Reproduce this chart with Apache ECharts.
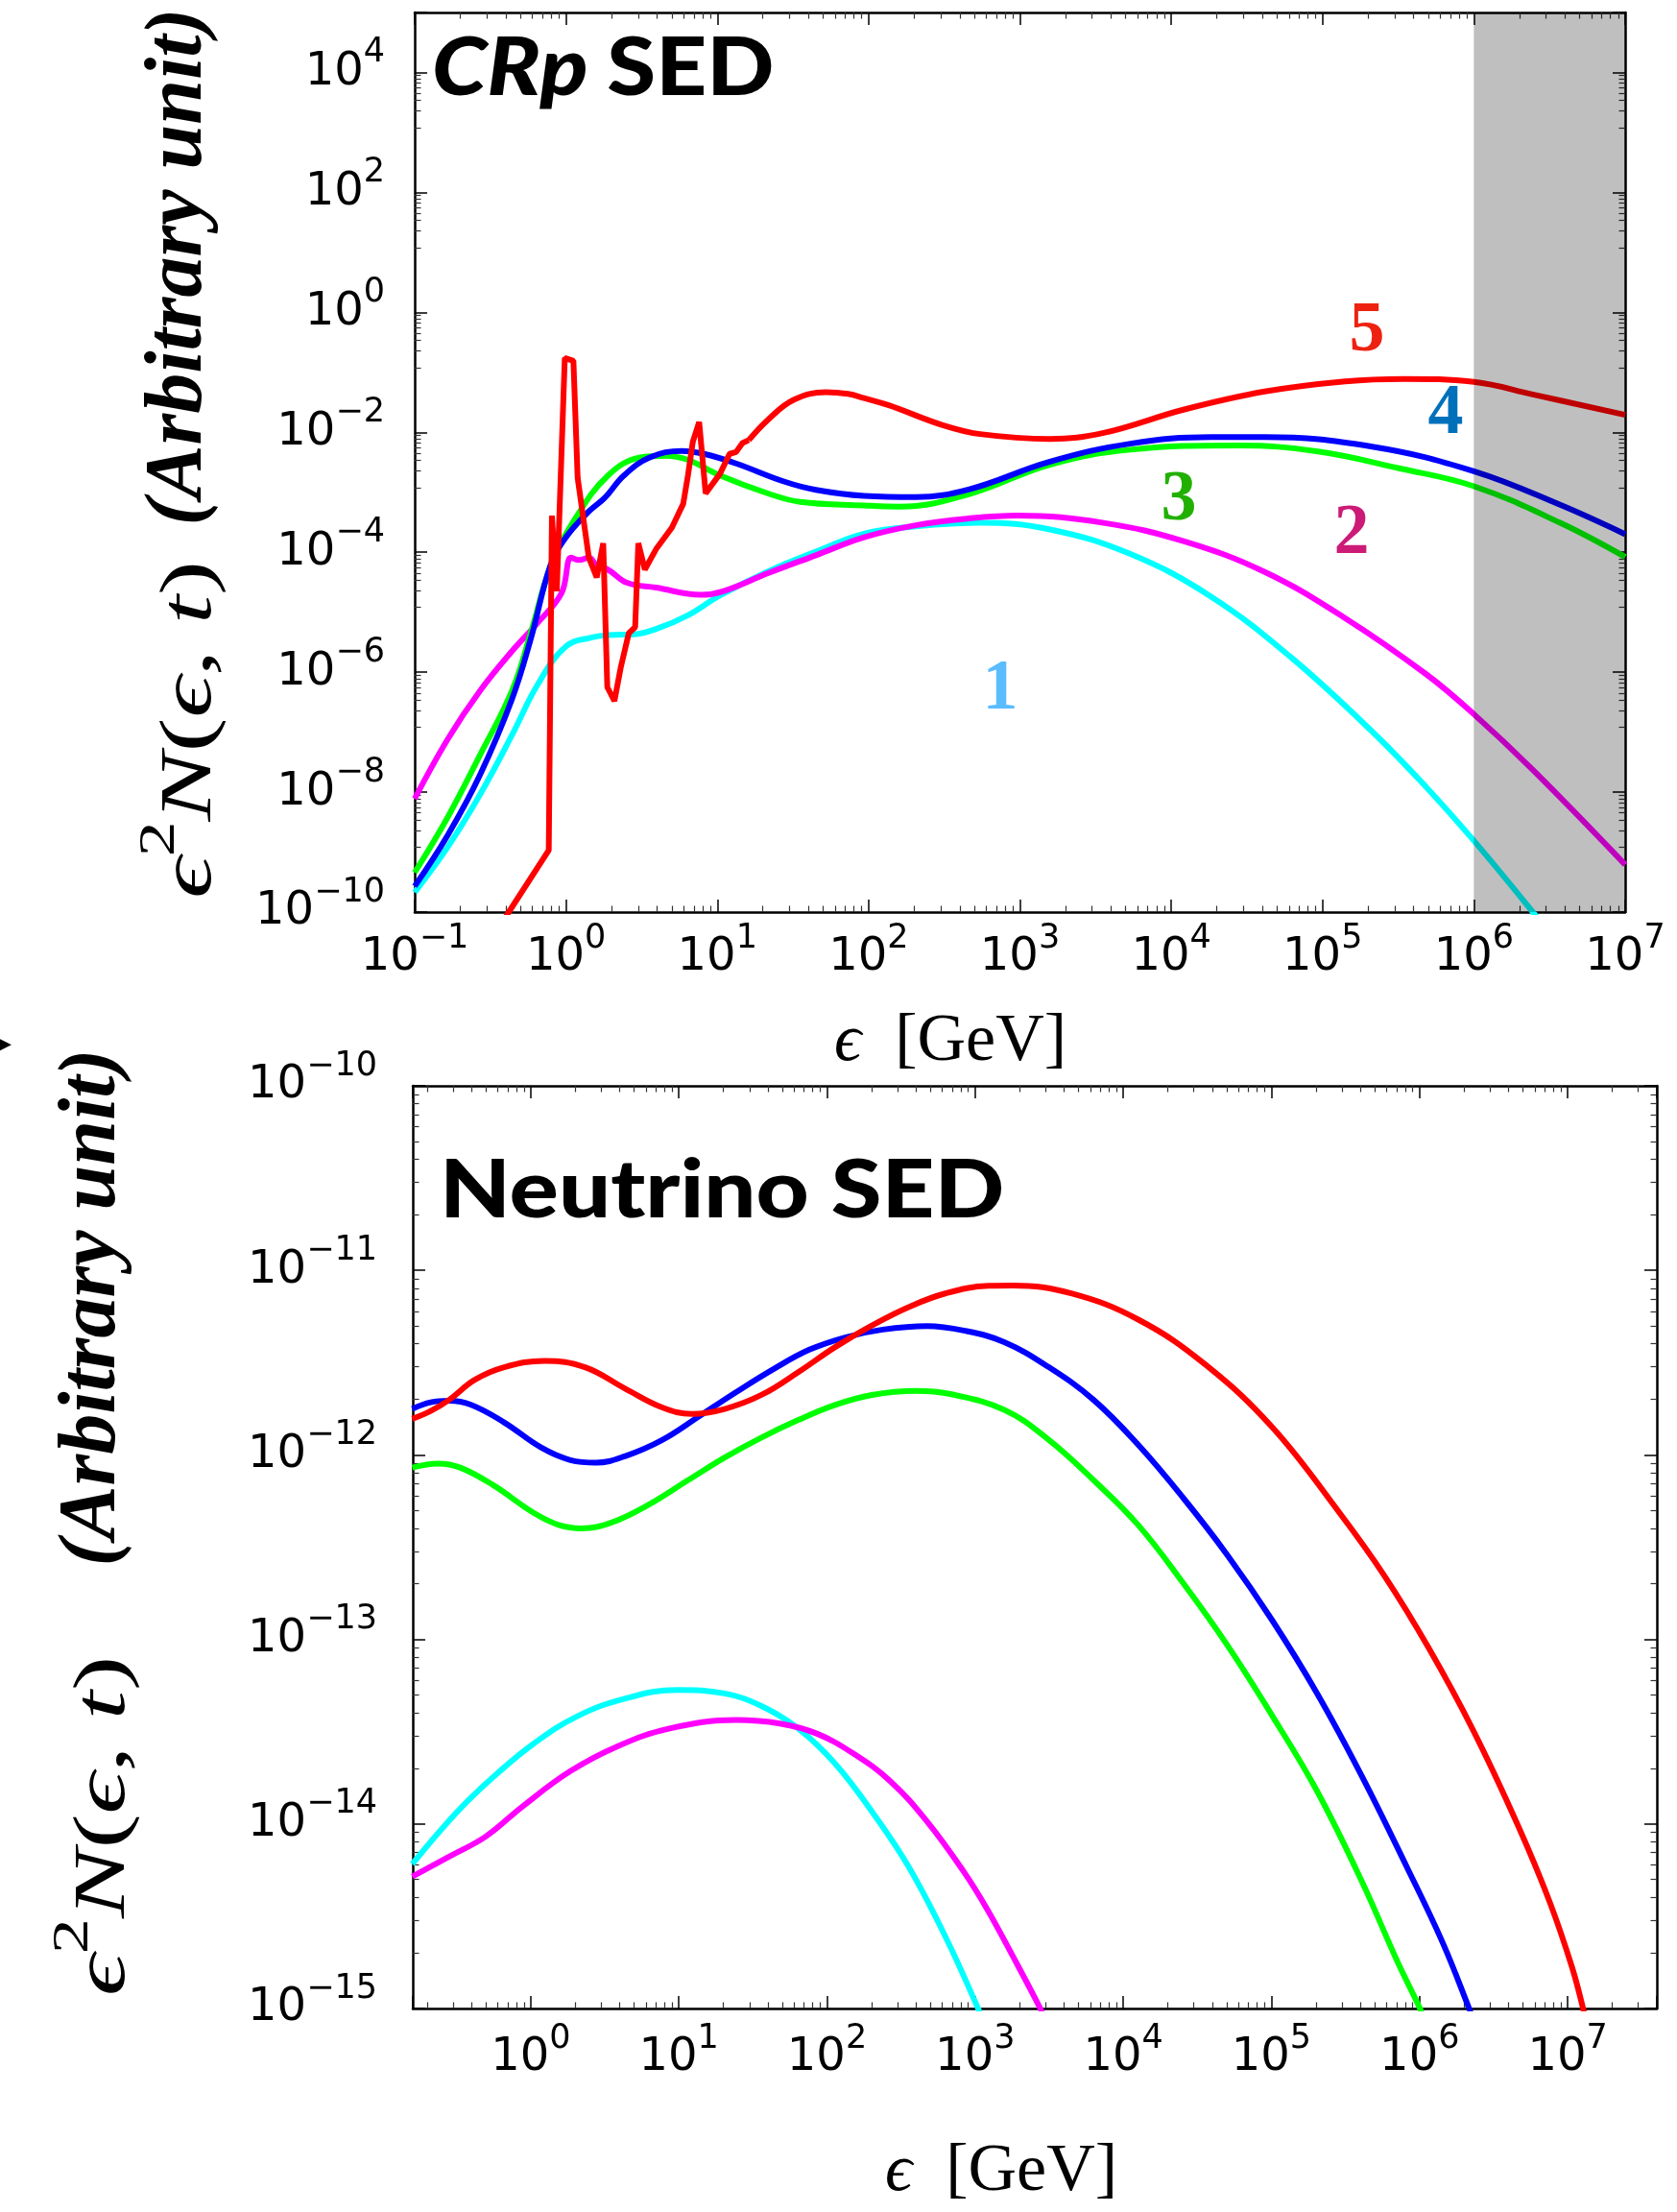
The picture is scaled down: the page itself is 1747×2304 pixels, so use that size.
<!DOCTYPE html>
<html><head><meta charset="utf-8">
<script src="https://cdn.jsdelivr.net/npm/echarts@6/dist/echarts.min.js"></script>
<style>html,body{margin:0;padding:0;background:#fff}#c{width:1747px;height:2304px}</style>
</head><body><div id="c"></div>
<script>
// ---- data: [log10(E / GeV), log10(e^2 N)] ----
const crpCyanLog = [[-1.0,-9.67],[-0.78,-8.91],[-0.568,-8.04],[-0.357,-7.05],[-0.188,-6.21],[0.0,-5.57],[0.172,-5.42],[0.278,-5.38],[0.447,-5.37],[0.595,-5.28],[0.806,-5.05],[1.018,-4.72],[1.335,-4.32],[1.652,-3.99],[1.97,-3.69],[2.311,-3.57],[2.737,-3.51],[3.198,-3.62],[3.73,-4.03],[4.263,-4.74],[4.795,-5.76],[5.328,-6.99],[5.683,-7.91],[6.0,-8.81],[6.39,-10.0],[6.5,-10.36]];
const crpMagentaLog = [[-1.0,-8.11],[-0.78,-7.11],[-0.568,-6.31],[-0.357,-5.65],[-0.188,-5.18],[-0.029,-4.68],[0.034,-4.09],[0.087,-4.13],[0.151,-4.09],[0.203,-4.22],[0.278,-4.29],[0.404,-4.51],[0.595,-4.59],[0.891,-4.71],[1.039,-4.65],[1.335,-4.35],[1.652,-4.05],[1.97,-3.75],[2.311,-3.55],[2.65,-3.44],[2.986,-3.39],[3.553,-3.51],[4.086,-3.82],[4.618,-4.33],[5.15,-5.1],[5.683,-6.03],[6.0,-6.7],[6.39,-7.63],[7.0,-9.21]];
const crpGreenLog = [[-1.0,-9.34],[-0.78,-8.41],[-0.568,-7.38],[-0.357,-6.31],[-0.23,-5.32],[-0.103,-4.25],[0.066,-3.42],[0.278,-2.72],[0.489,-2.42],[0.658,-2.39],[0.806,-2.46],[1.018,-2.72],[1.335,-3.02],[1.547,-3.16],[1.97,-3.22],[2.205,-3.24],[2.666,-3.03],[3.198,-2.54],[3.73,-2.29],[4.44,-2.22],[4.97,-2.32],[5.505,-2.6],[6.0,-2.9],[6.57,-3.51],[7.0,-4.08]];
const crpBlueLog = [[-1.0,-9.57],[-0.78,-8.71],[-0.568,-7.71],[-0.357,-6.45],[-0.23,-5.42],[-0.103,-4.22],[0.0,-3.75],[0.151,-3.32],[0.257,-3.09],[0.383,-2.72],[0.553,-2.42],[0.764,-2.31],[0.912,-2.36],[1.124,-2.52],[1.44,-2.82],[1.652,-2.96],[1.97,-3.06],[2.311,-3.08],[2.666,-2.95],[3.198,-2.49],[3.73,-2.19],[4.263,-2.08],[4.618,-2.08],[5.328,-2.24],[6.0,-2.65],[6.57,-3.21],[7.0,-3.7]];
const crpRedLog = [[-0.5,-10.48],[-0.378,-10.0],[-0.114,-8.97],[-0.093,-3.39],[-0.061,-4.65],[-0.008,-0.76],[0.049,-0.81],[0.077,-2.76],[0.151,-4.09],[0.203,-4.42],[0.246,-3.85],[0.273,-6.25],[0.32,-6.48],[0.362,-5.92],[0.415,-5.35],[0.457,-5.25],[0.478,-3.85],[0.521,-4.29],[0.595,-3.95],[0.7,-3.59],[0.775,-3.19],[0.806,-2.72],[0.838,-2.16],[0.88,-1.83],[0.923,-3.02],[1.018,-2.69],[1.081,-2.36],[1.124,-2.33],[1.166,-2.18],[1.208,-2.13]];
const crpRedSmoothLog = [[1.208,-2.13],[1.335,-1.79],[1.504,-1.46],[1.716,-1.33],[1.864,-1.36],[1.97,-1.43],[2.134,-1.55],[2.489,-1.88],[2.737,-2.03],[3.198,-2.11],[3.553,-2.01],[4.086,-1.62],[4.618,-1.32],[5.15,-1.15],[5.54,-1.11],[6.0,-1.16],[6.39,-1.37],[7.0,-1.71]];
const crpGrayBand = [1e6, 1e7];

const nuRedLog = [[-0.799,-11.805],[-0.675,-11.762],[-0.551,-11.702],[-0.377,-11.593],[-0.179,-11.525],[0.094,-11.49],[0.367,-11.525],[0.64,-11.642],[0.888,-11.743],[1.087,-11.778],[1.31,-11.751],[1.558,-11.675],[1.806,-11.552],[2.055,-11.416],[2.303,-11.299],[2.551,-11.199],[2.799,-11.125],[3.092,-11.084],[3.257,-11.082],[3.649,-11.125],[4.102,-11.267],[4.555,-11.511],[5.007,-11.851],[5.46,-12.314],[5.762,-12.654],[6.063,-13.048],[6.365,-13.497],[6.667,-14.013],[6.878,-14.421],[7.029,-14.775],[7.104,-15.0],[7.13,-15.1]];
const nuBlueLog = [[-0.799,-11.751],[-0.675,-11.715],[-0.551,-11.707],[-0.402,-11.729],[-0.179,-11.824],[0.07,-11.96],[0.268,-12.028],[0.442,-12.042],[0.64,-12.006],[0.888,-11.919],[1.137,-11.791],[1.385,-11.661],[1.633,-11.538],[1.881,-11.43],[2.129,-11.362],[2.377,-11.321],[2.675,-11.302],[2.923,-11.326],[3.197,-11.389],[3.498,-11.525],[3.8,-11.702],[4.102,-11.946],[4.404,-12.232],[4.705,-12.545],[5.007,-12.898],[5.309,-13.293],[5.611,-13.741],[5.913,-14.231],[6.154,-14.639],[6.335,-15.0],[6.36,-15.06]];
const nuGreenLog = [[-0.799,-12.069],[-0.625,-12.047],[-0.476,-12.069],[-0.253,-12.164],[0.02,-12.314],[0.194,-12.381],[0.343,-12.398],[0.541,-12.368],[0.789,-12.273],[1.062,-12.137],[1.31,-12.014],[1.558,-11.906],[1.806,-11.811],[2.055,-11.729],[2.303,-11.675],[2.6,-11.653],[2.824,-11.669],[3.197,-11.756],[3.498,-11.919],[3.8,-12.137],[4.102,-12.381],[4.404,-12.694],[4.705,-13.034],[5.007,-13.415],[5.309,-13.823],[5.611,-14.312],[5.852,-14.748],[6.003,-15.0],[6.03,-15.06]];
const nuCyanLog = [[-0.799,-14.217],[-0.6,-14.027],[-0.427,-13.877],[-0.228,-13.728],[0.02,-13.565],[0.318,-13.415],[0.64,-13.32],[0.988,-13.274],[1.31,-13.293],[1.558,-13.361],[1.806,-13.483],[2.055,-13.673],[2.303,-13.932],[2.551,-14.231],[2.799,-14.61],[3.02,-15.0],[3.05,-15.07]];
const nuMagentaLog = [[-0.799,-14.285],[-0.551,-14.177],[-0.303,-14.068],[-0.055,-13.905],[0.268,-13.714],[0.59,-13.578],[0.938,-13.483],[1.385,-13.437],[1.682,-13.456],[1.93,-13.51],[2.179,-13.619],[2.427,-13.768],[2.675,-13.986],[2.923,-14.258],[3.08,-14.46],[3.257,-14.72],[3.44,-15.0],[3.47,-15.06]];

// ---- tick labels (exponents of 10) ----
const crpXTickExps = [-1,0,1,2,3,4,5,6,7];
const crpYTickExps = [-10,-8,-6,-4,-2,0,2,4];
const nuXTickExps = [0,1,2,3,4,5,6,7];
const nuYTickExps = [-15,-14,-13,-12,-11,-10];

const curveLabels = ['1','2','3','4','5'];
const colors = ['#00ffff','#ff00ff','#00ff00','#0000ff','#ff0000'];

function toPts(arr){ return arr.map(function(p){ return [Math.pow(10,p[0]), Math.pow(10,p[1])]; }); }
function makeFmt(list){
  return function(v){
    const e = Math.log10(v); const r = Math.round(e);
    if (Math.abs(e-r) > 1e-6 || list.indexOf(r) < 0) return '';
    return '{b|10}{s|' + (r < 0 ? '\u2212' + (-r) : String(r)) + '}';
  };
}
const labRich = {
  b: {fontFamily:'DejaVu Sans', fontSize:48, lineHeight:48, color:'#000', verticalAlign:'bottom'},
  s: {fontFamily:'DejaVu Sans', fontSize:35, lineHeight:35, padding:[0,0,27,0], color:'#000', verticalAlign:'bottom'}
};
const axLine = {show:true, onZero:false, lineStyle:{color:'#000', width:2.5}};
const axTick = {show:true, inside:true, length:13, lineStyle:{color:'#000', width:1.5}};
const minTick = {show:true, splitNumber:9, length:6.5, lineStyle:{color:'#333', width:1.2}};

function xAx(grid, pos, min, max, list, show, margin){
  return {type:'log', gridIndex:grid, position:pos, min:min, max:max, logBase:10,
    axisLine:axLine, axisTick:axTick, minorTick:minTick, splitLine:{show:false}, minorSplitLine:{show:false},
    axisLabel:{show:show, formatter:makeFmt(list), rich:labRich, fontFamily:'DejaVu Sans', fontSize:48, margin:margin, hideOverlap:false}};
}
function yAx(grid, pos, min, max, list, show, margin, interval){
  const o = xAx(grid, pos, min, max, list, show, margin);
  if (interval) o.interval = interval;
  return o;
}
function lineSeries(arr, ci, xi, yi, smooth){
  return {type:'line', xAxisIndex:xi, yAxisIndex:yi, data:toPts(arr), showSymbol:false, symbol:'none',
    smooth:smooth, clip:true, lineStyle:{color:colors[ci], width:6}, z:3, silent:true};
}

const serif = '"Liberation Serif", "DejaVu Serif", serif';
const mathRich = {
  mi:{fontFamily:serif, fontStyle:'italic', fontSize:76, lineHeight:100, verticalAlign:'bottom', color:'#000'},
  r:{fontFamily:serif, fontSize:76, lineHeight:100, verticalAlign:'bottom', color:'#000'},
  sup:{fontFamily:serif, fontSize:52, lineHeight:56, padding:[0,0,44,0], verticalAlign:'bottom', color:'#000'}
};
const mathTitle = '{mi|\u03f5}{sup|2}{mi|N}{r|(}{mi|\u03f5}{r|, }{mi|t}{r|)}';
const unitTitle = '(Arbitrary unit)';
const unitStyle = {fontFamily:serif, fontStyle:'italic', fontWeight:'bold', fontSize:84, lineHeight:100, fill:'#000', align:'center', verticalAlign:'middle'};
const xRich = {
  mi:{fontFamily:serif, fontStyle:'italic', fontSize:70, color:'#000'},
  r:{fontFamily:serif, fontSize:70, color:'#000'}
};

const chart = echarts.init(document.getElementById('c'), null, {renderer:'canvas'});
chart.setOption({
  animation:false,
  backgroundColor:'#fff',
  grid:[
    {left:432, top:13, width:1261, height:937, outerBoundsMode:'none', containLabel:false},
    {left:430, top:1131, width:1296, height:961, outerBoundsMode:'none', containLabel:false}
  ],
  xAxis:[
    xAx(0,'bottom',0.1,1e7,crpXTickExps,true,24),
    xAx(0,'top',0.1,1e7,crpXTickExps,false,8),
    xAx(1,'bottom',0.16,4e7,nuXTickExps,true,28),
    xAx(1,'top',0.16,4e7,nuXTickExps,false,8)
  ],
  yAxis:[
    yAx(0,'left',1e-10,1e5,crpYTickExps,true,31,2),
    yAx(0,'right',1e-10,1e5,crpYTickExps,false,8,2),
    yAx(1,'left',1e-15,1e-10,nuYTickExps,true,37,1),
    yAx(1,'right',1e-15,1e-10,nuYTickExps,false,8,1)
  ],
  series:[
    lineSeries(crpCyanLog,0,0,0,0.4),
    lineSeries(crpMagentaLog,1,0,0,0.4),
    lineSeries(crpGreenLog,2,0,0,0.4),
    lineSeries(crpBlueLog,3,0,0,0.4),
    lineSeries(crpRedLog,4,0,0,false),
    lineSeries(crpRedSmoothLog,4,0,0,0.4),
    {type:'line', xAxisIndex:0, yAxisIndex:0, data:[], z:10, silent:true,
      markArea:{silent:true, z:10, label:{show:false}, itemStyle:{color:'rgba(0,0,0,0.25)'},
        data:[[{xAxis:crpGrayBand[0], yAxis:1e-10},{xAxis:crpGrayBand[1], yAxis:1e5}]]}},
    lineSeries(nuCyanLog,0,2,2,0.4),
    lineSeries(nuMagentaLog,1,2,2,0.4),
    lineSeries(nuGreenLog,2,2,2,0.4),
    lineSeries(nuBlueLog,3,2,2,0.4),
    lineSeries(nuRedLog,4,2,2,0.4)
  ],
  graphic:[
    {type:'text', x:187, y:760, rotation:Math.PI/2, scaleX:1.42, z:20,
      style:{text:mathTitle, rich:mathRich, align:'center', verticalAlign:'middle'}},
    {type:'text', x:187, y:278, rotation:Math.PI/2, z:20,
      style:Object.assign({text:unitTitle}, unitStyle)},
    {type:'text', x:97, y:1902, rotation:Math.PI/2, scaleX:1.43, z:20,
      style:{text:mathTitle, rich:mathRich, align:'center', verticalAlign:'middle'}},
    {type:'text', x:97, y:1362, rotation:Math.PI/2, z:20,
      style:Object.assign({text:unitTitle}, unitStyle)},
    {type:'text', x:990, y:1086, z:20,
      style:{text:'{mi|\u03f5}{r|  [GeV]}', rich:xRich, align:'center', verticalAlign:'middle'}},
    {type:'text', x:1043, y:2263, z:20,
      style:{text:'{mi|\u03f5}{r|  [GeV]}', rich:xRich, align:'center', verticalAlign:'middle'}},
    {type:'text', x:450, y:72, scaleX:1.1, z:20,
      style:{text:'{i|CRp }{n|SED}', rich:{i:{fontFamily:'Lato', fontWeight:900, fontStyle:'italic', fontSize:84, color:'#000'}, n:{fontFamily:'Lato', fontWeight:900, fontSize:84, color:'#000'}}, align:'left', verticalAlign:'middle'}},
    {type:'text', x:458, y:1241, scaleX:1.14, z:20,
      style:{text:'Neutrino SED', fontFamily:'Lato', fontWeight:900, fontSize:84, fill:'#000', align:'left', verticalAlign:'middle'}},
    {type:'text', x:1424, y:346, z:20, style:{text:curveLabels[4], fontFamily:serif, fontWeight:'bold', fontSize:74, fill:'#ee2211', align:'center', verticalAlign:'middle'}},
    {type:'text', x:1506, y:432, z:20, style:{text:curveLabels[3], fontFamily:serif, fontWeight:'bold', fontSize:74, fill:'#0070bb', align:'center', verticalAlign:'middle'}},
    {type:'text', x:1228, y:522, z:20, style:{text:curveLabels[2], fontFamily:serif, fontWeight:'bold', fontSize:74, fill:'#22b000', align:'center', verticalAlign:'middle'}},
    {type:'text', x:1408, y:557, z:20, style:{text:curveLabels[1], fontFamily:serif, fontWeight:'bold', fontSize:74, fill:'#cc1a77', align:'center', verticalAlign:'middle'}},
    {type:'text', x:1042, y:719, z:20, style:{text:curveLabels[0], fontFamily:serif, fontWeight:'bold', fontSize:74, fill:'#5bbcff', align:'center', verticalAlign:'middle'}},
    {type:'text', x:12, y:1088, z:20, style:{text:'\u25b6', fontFamily:'DejaVu Sans', fontSize:26, fill:'#000', align:'right', verticalAlign:'middle'}}
  ]
});
</script></body></html>
